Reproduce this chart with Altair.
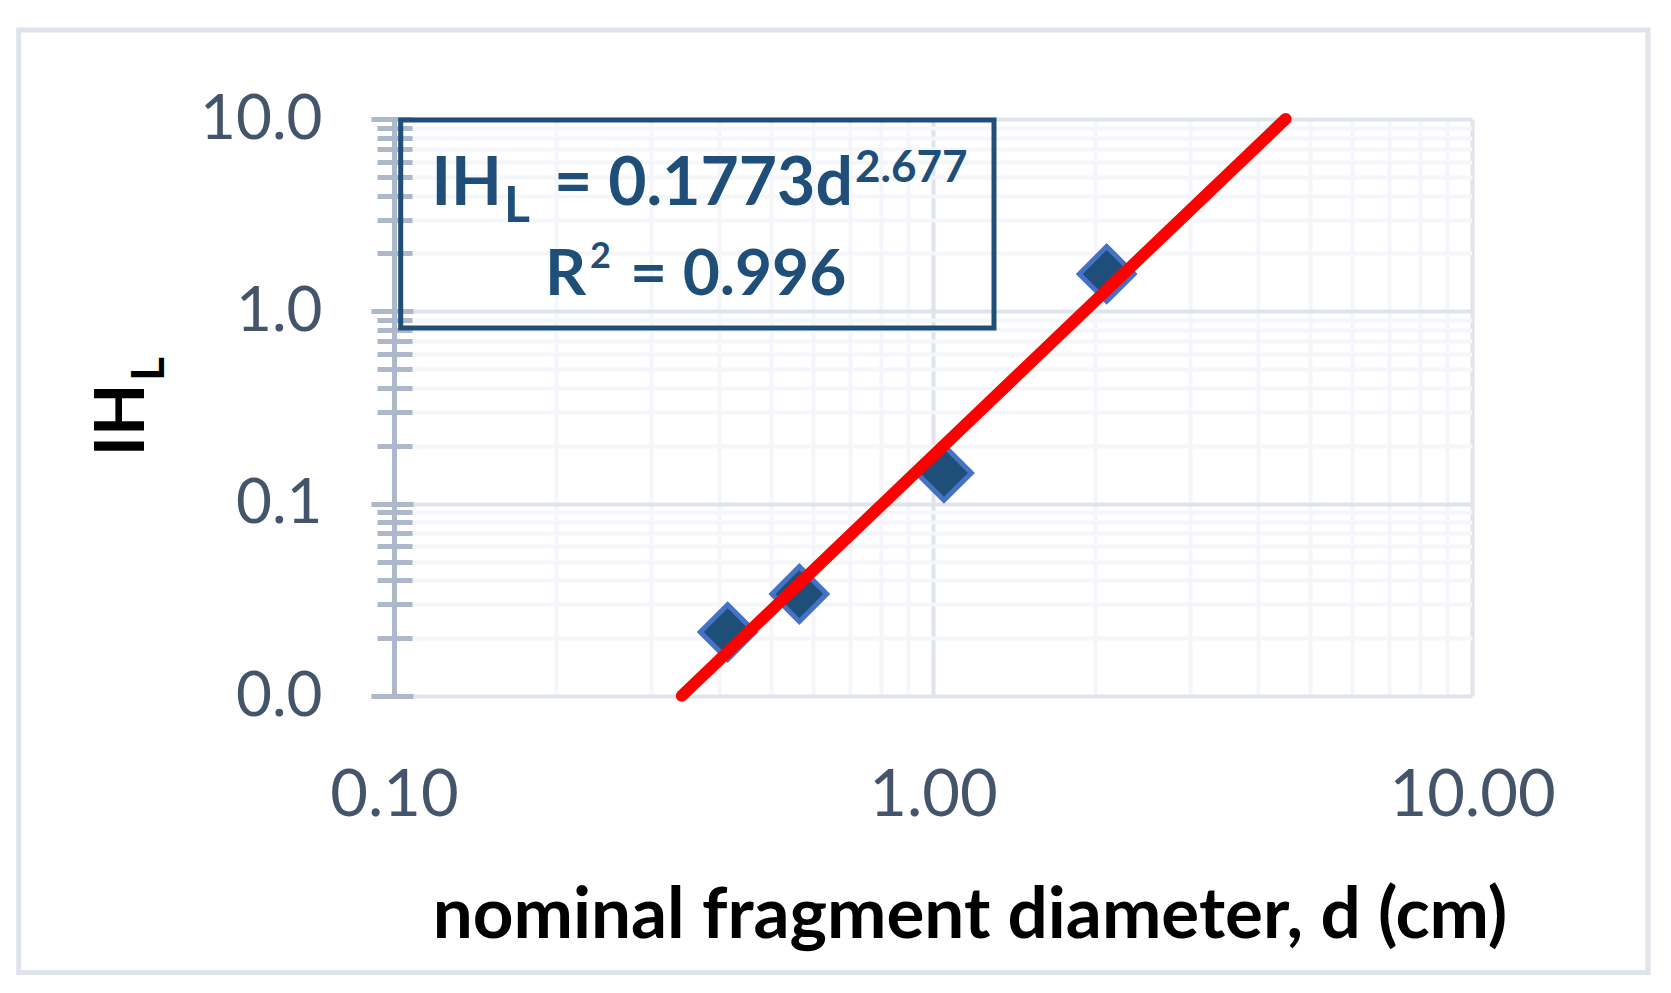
import altair as alt
import pandas as pd

# ---------------- data ----------------
d_cm = [0.416, 0.565, 1.048, 2.10]
ih_l = [0.0215, 0.0339, 0.1445, 1.565]

fit_a = 0.1773
fit_b = 2.677
trend_d = [0.342, 4.51]
trend_ih = [fit_a * d ** fit_b for d in trend_d]

x_major = [0.1, 1.0, 10.0]
x_minor = [0.2, 0.3, 0.4, 0.5, 0.6, 0.7, 0.8, 0.9,
           2.0, 3.0, 4.0, 5.0, 6.0, 7.0, 8.0, 9.0]
y_major = [0.01, 0.1, 1.0, 10.0]
y_minor = [0.02, 0.03, 0.04, 0.05, 0.06, 0.07, 0.08, 0.09,
           0.2, 0.3, 0.4, 0.5, 0.6, 0.7, 0.8, 0.9,
           2.0, 3.0, 4.0, 5.0, 6.0, 7.0, 8.0, 9.0]

x_title = "nominal fragment diameter, d (cm)"
eq_parts = ["IH", "L", "= 0.1773d", "2.677"]
r2_parts = ["R", "2", "= 0.996"]

pts = pd.DataFrame({"d": d_cm, "ih": ih_l})
trend = pd.DataFrame({"d": trend_d, "ih": trend_ih})
one = pd.DataFrame({"k": [0]})

# ---------------- styles ----------------
W, H = 1078, 577
FONT = "Lato"
LABEL_COLOR = "#44546a"
AXIS_COLOR = "#adb9ca"
MAJOR_GRID = "#dfe3ea"
MINOR_GRID = "#f4f6f9"
BLUE = "#1f4e79"

xs = alt.Scale(type="log", domain=[0.1, 10], nice=False)
ys = alt.Scale(type="log", domain=[0.01, 10], nice=False)


def no_axis_props():
    return dict(labels=False, ticks=False, domain=False, title=None)


base = alt.Chart(pts)

minor_grid = base.mark_point(opacity=0).encode(
    x=alt.X("d:Q", scale=xs, axis=alt.Axis(orient="bottom", values=x_minor, grid=True,
                                            gridColor=MINOR_GRID, gridWidth=4, **no_axis_props())),
    y=alt.Y("ih:Q", scale=ys, axis=alt.Axis(orient="left", values=y_minor, grid=True,
                                             gridColor=MINOR_GRID, gridWidth=4, **no_axis_props())),
)

major_grid = base.mark_point(opacity=0).encode(
    x=alt.X("d:Q", scale=xs, axis=alt.Axis(orient="bottom", values=x_major, grid=True,
                                            gridColor=MAJOR_GRID, gridWidth=4,
                                            ticks=False, domain=False, title=None,
                                            format=".2f", labelFont=FONT, labelFontSize=65,
                                            labelColor=LABEL_COLOR, labelPadding=68,
                                            labelFlush=False, labelOverlap=False)),
    y=alt.Y("ih:Q", scale=ys, axis=alt.Axis(orient="left", values=y_major, grid=True,
                                             gridColor=MAJOR_GRID, gridWidth=4, **no_axis_props())),
)

y_minor_ticks = base.mark_point(opacity=0).encode(
    x=alt.X("d:Q", scale=xs, axis=None),
    y=alt.Y("ih:Q", scale=ys, axis=alt.Axis(orient="left", values=y_minor, grid=False,
                                             labels=False, domain=False, title=None,
                                             ticks=True, tickColor=AXIS_COLOR, tickWidth=5,
                                             tickSize=35, offset=-18)),
)

y_major_ticks = base.mark_point(opacity=0).encode(
    x=alt.X("d:Q", scale=xs, axis=None),
    y=alt.Y("ih:Q", scale=ys, axis=alt.Axis(orient="left", values=y_major, grid=False,
                                             labels=False, domain=False, title=None,
                                             ticks=True, tickColor=AXIS_COLOR, tickWidth=5,
                                             tickSize=42, offset=-19)),
)

y_domain = base.mark_point(opacity=0).encode(
    x=alt.X("d:Q", scale=xs, axis=None),
    y=alt.Y("ih:Q", scale=ys, axis=alt.Axis(orient="left", values=y_major, grid=False,
                                             ticks=False, domain=True, domainColor=AXIS_COLOR,
                                             domainWidth=5, title=None, format=".1f",
                                             labelFont=FONT, labelFontSize=62,
                                             labelColor=LABEL_COLOR, labelPadding=72,
                                             labelFlush=False, labelOverlap=False)),
)

trend_line = alt.Chart(trend).mark_line(color="#ff0000", strokeWidth=12, strokeCap="round").encode(
    x=alt.X("d:Q", scale=xs, axis=None),
    y=alt.Y("ih:Q", scale=ys, axis=None),
)

points = base.mark_point(shape="diamond", filled=True, size=3000, fill=BLUE,
                         stroke="#4472c4", strokeWidth=5, opacity=1).encode(
    x=alt.X("d:Q", scale=xs, axis=None),
    y=alt.Y("ih:Q", scale=ys, axis=None),
)

# ---- annotation box ----
box = alt.Chart(one).mark_rect(fill=None, fillOpacity=0, stroke=BLUE, strokeWidth=5).encode(
    x=alt.value(6.7), x2=alt.value(600), y=alt.value(1), y2=alt.value(209))


def txt(text, x, y, size, color, weight="bold", angle=0, align="left", baseline="alphabetic"):
    return alt.Chart(one).mark_text(text=text, font=FONT, fontSize=size, fontWeight=weight,
                                    color=color, angle=angle, align=align,
                                    baseline=baseline).encode(x=alt.value(x), y=alt.value(y))


ann = [
    txt(eq_parts[0], 37.5, 86, 66, BLUE),
    txt(eq_parts[1], 110, 103, 50, BLUE),
    txt(eq_parts[2], 160, 86, 66, BLUE),
    txt(eq_parts[3], 461, 63, 44, BLUE),
    txt(r2_parts[0], 151, 176, 64, BLUE),
    txt(r2_parts[1], 196, 149, 36, BLUE),
    txt(r2_parts[2], 236, 176, 64, BLUE),
]

titles = [
    txt("IH", -250, 301, 68, "#000000", angle=270, align="center"),
    txt("L", -230, 250, 46, "#000000", angle=270, align="center"),
    txt(x_title, 576, 819, 71, "#000000", align="center"),
]

border = alt.Chart(one).mark_rect(fill=None, fillOpacity=0, stroke="#dfe3ea", strokeWidth=5).encode(
    x=alt.value(-375.3), x2=alt.value(1254), y=alt.value(-89), y2=alt.value(853.5))

chart = alt.layer(
    border, minor_grid, major_grid, y_minor_ticks, y_major_ticks, y_domain,
    points, trend_line, box, *ann, *titles
).resolve_axis(x="independent", y="independent").properties(
    width=W, height=H,
    autosize=alt.AutoSizeParams(type="none"),
    padding={"left": 386, "top": 111, "right": 186, "bottom": 284},
    background="#ffffff",
).configure_view(strokeWidth=0)

chart.save("out.html", embed_options={"renderer": "svg", "actions": False})
